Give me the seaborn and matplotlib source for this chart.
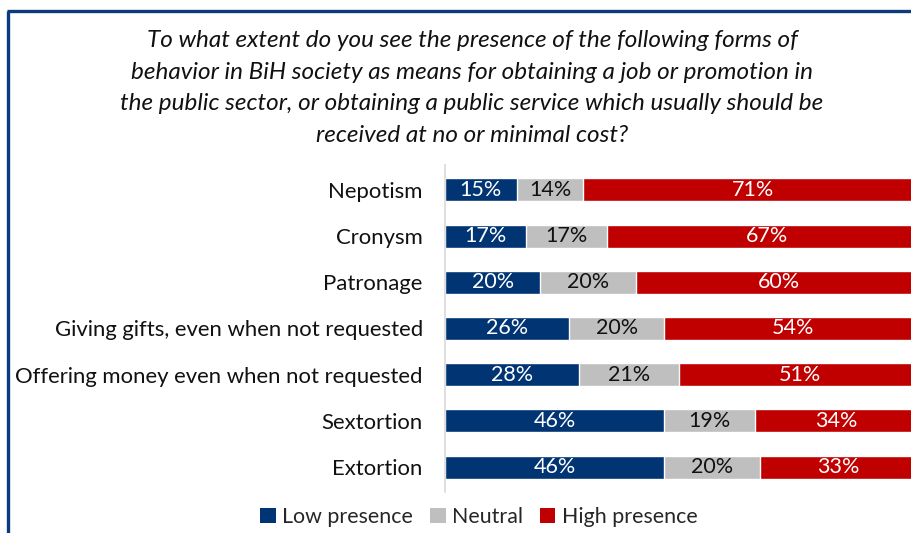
import matplotlib
matplotlib.use("Agg")
import matplotlib.pyplot as plt
from matplotlib.lines import Line2D
from matplotlib.patches import Patch
import seaborn as sns
import pandas as pd
import numpy as np

categories = [
    "Nepotism",
    "Cronysm",
    "Patronage",
    "Giving gifts, even when not requested",
    "Offering money even when not requested",
    "Sextortion",
    "Extortion",
]
low_presence = [15, 17, 20, 26, 28, 46, 46]
neutral = [14, 17, 20, 20, 21, 19, 20]
high_presence = [71, 67, 60, 54, 51, 34, 33]
series_names = ["Low presence", "Neutral", "High presence"]

title = ("To what extent do you see the presence of the following forms of\n"
         "behavior in BiH society as means for obtaining a job or promotion in\n"
         "the public sector, or obtaining a public service which usually should be\n"
         "received at no or minimal cost?")

BLUE = "#003473"
GRAY = "#BFBFBF"
RED = "#C00000"
FRAME = "#0B3B7C"
TEXT = "#111111"

sns.set_theme(style="white")
plt.rcParams["font.family"] = ["Lato", "DejaVu Sans"]

df = pd.DataFrame({
    "category": categories,
    "low": low_presence,
    "neutral": neutral,
    "high": high_presence,
})
df["cum_low"] = df["low"]
df["cum_neutral"] = df["low"] + df["neutral"]
df["cum_high"] = df["cum_neutral"] + df["high"]

W, H = 912, 533
fig = plt.figure(figsize=(W / 100, H / 100), dpi=100)
ax = fig.add_axes([445 / W, 1 - 492 / H, 477 / W, (492 - 165) / H])

# stacked bars: draw cumulative totals back to front
for col, color in [("cum_high", RED), ("cum_neutral", GRAY), ("cum_low", BLUE)]:
    sns.barplot(data=df, x=col, y="category", orient="h", color=color,
                width=0.5, saturation=1, ax=ax, order=categories)

ax.set_xlim(0, 100)
ax.set_ylim(6.54, -0.54)
ax.set_xlabel("")
ax.set_ylabel("")
ax.set_xticks([])
ax.tick_params(axis="y", length=0, pad=16, labelsize=15.9, labelcolor=TEXT)
for s in ["top", "right", "bottom"]:
    ax.spines[s].set_visible(False)
ax.spines["left"].set_color("#D9D9D9")
ax.spines["left"].set_linewidth(1.2)

# segment value labels
for i in range(len(categories)):
    segs = [(df["low"][i], 0, "white"),
            (df["neutral"][i], df["cum_low"][i], TEXT),
            (df["high"][i], df["cum_neutral"][i], "white")]
    for val, start, tc in segs:
        ax.text(start + val / 2, i, f"{val}%", ha="center", va="center",
                color=tc, fontsize=15.5)

fig.text(472 / W, 1 - 30 / H, title, ha="center", va="top", fontsize=17.5,
         style="italic", color=TEXT, linespacing=1.63)

handles = [Patch(facecolor=c, edgecolor="none") for c in (BLUE, GRAY, RED)]
fig.legend(handles, series_names, loc="center", bbox_to_anchor=(479 / W, 1 - 517 / H),
           ncol=3, frameon=False, fontsize=15.4, handlelength=0.72, handleheight=0.72,
           handletextpad=0.3, columnspacing=0.8)

# frame around the panel
fig.add_artist(Line2D([8.5 / W, 8.5 / W], [0, 1 - 10.5 / H], color=FRAME, lw=2.4,
                      transform=fig.transFigure, solid_capstyle="butt"))
fig.add_artist(Line2D([7.3 / W, 1], [1 - 10.5 / H, 1 - 10.5 / H], color=FRAME, lw=2.4,
                      transform=fig.transFigure, solid_capstyle="butt"))

fig.savefig("out.png", dpi=100)
